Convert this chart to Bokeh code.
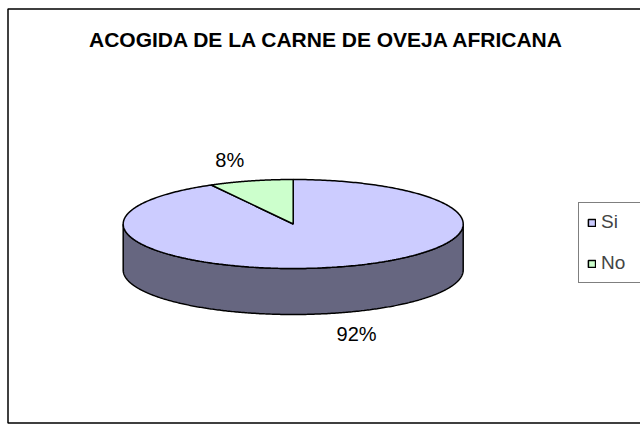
import numpy as np
from bokeh.plotting import figure
from bokeh.models import Range1d, Legend, LegendItem, ColumnDataSource, Label, BoxAnnotation
from bokeh.core.properties import value
from bokeh.embed import file_html
from bokeh.resources import INLINE

# ---- data ----
chart_title = "ACOGIDA DE LA CARNE DE OVEJA AFRICANA"
categories = ["Si", "No"]
values = [92, 8]
top_colors = ["#CCCCFF", "#CCFFCC"]
side_colors = ["#666680", "#668066"]

# ---- layout (pixel coordinates of the picture) ----
W, H = 640, 425
cx, cy = 292.7, 223.5      # centre of the pie top
rx, ry = 170.0, 44.5       # ellipse radii
depth = 46.0               # thickness of the 3D pie
lab_rx, lab_ry = 255.0, 66.0
FONT = "Liberation Sans"

p = figure(width=W, height=H, output_backend="svg", toolbar_location=None,
           x_range=Range1d(0, W), y_range=Range1d(H, 0),
           min_border=0)
p.axis.visible = False
p.xgrid.visible = False
p.ygrid.visible = False
p.outline_line_color = None
p.background_fill_color = "white"
p.border_fill_color = "white"

# chart area border
p.add_layout(BoxAnnotation(left=7.5, right=W + 20, top=8.5, bottom=422.5,
                           fill_alpha=0, line_color="black", line_alpha=1.0,
                           line_width=1.5))

total = float(sum(values))
cum = np.concatenate([[0.0], np.cumsum(values)])
starts = 90.0 - cum[:-1] / total * 360.0
ends = 90.0 - cum[1:] / total * 360.0

def ell(t_deg, dy=0.0):
    t = np.radians(t_deg)
    return cx + rx * np.cos(t), cy - ry * np.sin(t) + dy

# side walls (front half only)
side_xs, side_ys, side_fill = [], [], []
for i in range(len(values)):
    t = np.linspace(starts[i], ends[i], 600)
    front = np.sin(np.radians(t)) < 0
    idx = np.where(front)[0]
    if len(idx) == 0:
        continue
    runs = np.split(idx, np.where(np.diff(idx) != 1)[0] + 1)
    for r in runs:
        tr = t[r]
        x1, y1 = ell(tr)
        x2, y2 = ell(tr[::-1], depth)
        side_xs.append(list(np.concatenate([x1, x2])))
        side_ys.append(list(np.concatenate([y1, y2])))
        side_fill.append(side_colors[i])

p.patches(xs=side_xs, ys=side_ys, fill_color=side_fill,
          line_color="black", line_width=1.5)

# top faces
top_xs, top_ys = [], []
for i in range(len(values)):
    t = np.linspace(starts[i], ends[i], 400)
    x, y = ell(t)
    top_xs.append([cx] + list(x))
    top_ys.append([cy] + list(y))

top_src = ColumnDataSource(dict(xs=top_xs, ys=top_ys, fill=top_colors, cat=categories))
tops = p.patches(xs="xs", ys="ys", fill_color="fill", line_color="black",
                 line_width=1.5, source=top_src)

# percentage labels
mids = np.radians((starts + ends) / 2.0)
lx = cx + lab_rx * np.cos(mids)
ly = cy - lab_ry * np.sin(mids) + np.where(np.sin(mids) < 0, depth, 0.0)
lab_src = ColumnDataSource(dict(x=lx, y=ly, text=[f"{v}%" for v in values]))
p.text(x="x", y="y", text="text", source=lab_src, text_font=value(FONT),
       text_font_size="20px", text_color="black", text_align="center",
       text_baseline="middle")

# title
p.add_layout(Label(x=326.5, y=39, text=chart_title, text_font=FONT,
                   text_font_size="21px", text_font_style="bold",
                   text_align="center", text_baseline="middle",
                   text_color="black"))

# legend
legend = Legend(items=[LegendItem(label=c, renderers=[tops], index=i)
                       for i, c in enumerate(categories)],
                location=(578, 142), margin=0, padding=8, spacing=19,
                glyph_width=9, glyph_height=9, label_standoff=5,
                label_width=33, label_height=20,
                label_text_font=FONT, label_text_font_size="19px",
                border_line_color="black", border_line_width=1.5,
                background_fill_color="white", background_fill_alpha=1.0)
p.add_layout(legend)

open("out.html", "w").write(file_html(p, INLINE))
